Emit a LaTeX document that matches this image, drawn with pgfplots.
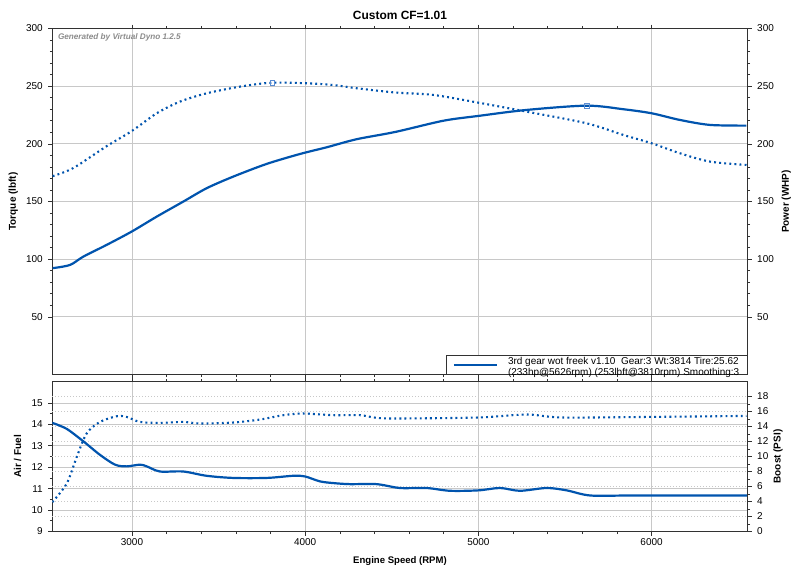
\documentclass[border=0pt]{standalone}
\usepackage{fontspec}
\setmainfont{Liberation Sans}
\usepackage{pgfplots}
\pgfplotsset{compat=1.18}
\definecolor{dyno}{RGB}{0,84,174}
\definecolor{gridc}{RGB}{200,200,200}
\definecolor{axc}{RGB}{50,50,50}
\definecolor{markc}{RGB}{90,140,210}
\definecolor{wmark}{RGB}{140,140,140}

\pgfplotsset{
  dynobase/.style={
    scale only axis, width=695.4bp,
    xmin=2540, xmax=6555,
    xtick={3000,4000,5000,6000},
    minor x tick num=4,
    tick align=outside,
    major tick length=4bp, minor tick length=2.5bp,
    axis line style={axc, line width=0.8bp},
    every tick/.style={axc, line width=0.6bp},
    /pgf/number format/assume math mode=true,
    /pgf/number format/set thousands separator={},
    tick label style={font=\fontsize{10}{12}\selectfont},
    label style={font=\bfseries\fontsize{10}{12}\selectfont},
    major grid style={gridc, line width=0.8bp},
  },
  solidline/.style={dyno, line width=2.2bp, smooth},
  dotline/.style={dyno, line width=2.1bp, smooth, dash pattern=on 1.9bp off 3.2bp},
}

\begin{document}
\begin{tikzpicture}
\fill[white, use as bounding box] (0,0) rectangle (799bp,-573bp);

% ---------- top panel: torque / power ----------
\begin{axis}[dynobase,
  at={(52.3bp,-28.5bp)}, anchor=north west,
  height=346bp,
  ymin=0, ymax=300,
  ytick={50,100,...,300},
  minor y tick num=4,
  xticklabels={},
  ytick pos=left,
  yticklabel style={xshift=-2bp},
  xmajorgrids, ymajorgrids,
  ylabel={Torque (lbft)},
  ylabel style={at={(axis description cs:-0.056,0.5)}, anchor=center},
  title={Custom CF=1.01},
  title style={font=\bfseries\fontsize{12}{14}\selectfont, at={(axis description cs:0.5,1)}, anchor=south, yshift=-1bp},
  legend style={at={(axis description cs:1,0)}, anchor=south east, draw=axc, line width=0.8bp,
    fill=white, inner xsep=6bp, inner ysep=0bp, font=\fontsize{10}{11}\selectfont,
    legend cell align=left},
  legend image code/.code={\draw[#1, line width=2.2bp] (0bp,0bp) -- (43bp,0bp);},
]
\node[anchor=west, font=\bfseries\itshape\fontsize{8.2}{10}\selectfont, text=wmark, inner sep=0pt]
  at (axis description cs:0.008,0.974) {Generated by Virtual Dyno 1.2.5};

% Torque (dotted)
\addplot[dotline, forget plot] coordinates {
(2542,172) (2661,179) (2854,198) (2998,211) (3143,226.5) (3277,236.6)
(3431,243.8) (3624,249.6) (3807,253) (4009,252.5) (4162,251) (4297,248.2)
(4520,244.5) (4740,242.4) (5000,235.7) (5279,227.9) (5625,217.8) (5837,207.7)
(6000,200.5) (6164,191.8) (6337,184.6) (6548,181.7)
};
% Power (solid)
\addplot[solidline] coordinates {
(2542,92.2) (2642,95) (2719,102.2) (2854,112.4) (2998,123.9) (3143,136.9)
(3296,149.9) (3431,161.5) (3585,171.6) (3778,182.6) (3970,191.2) (4124,197)
(4297,204) (4520,210.3) (4797,220) (5000,224.2) (5279,229.4) (5625,233.1)
(5837,230) (6000,226.5) (6164,220.7) (6337,216.4) (6548,215.8)
};
\addlegendentry{\hspace{8bp}\begin{tabular}{@{}l@{}}3rd gear wot freek v1.10\ \ Gear:3 Wt:3814 Tire:25.62\\(233hp@5626rpm) (253lbft@3810rpm) Smoothing:3\end{tabular}}
% peak markers
\addplot[only marks, mark=square, mark size=2.2bp, mark options={draw=markc, line width=0.6bp, fill=white}, forget plot]
  coordinates {(3810,253) (5626,233)};
\end{axis}

\begin{axis}[dynobase,
  at={(52.3bp,-28.5bp)}, anchor=north west,
  height=346bp,
  ymin=0, ymax=300,
  ytick={50,100,...,300},
  minor y tick num=4,
  axis x line=none,
  axis y line*=right,
  yticklabel style={xshift=2bp},
  ylabel={Power (WHP)},
  ylabel style={at={(axis description cs:1.0554,0.5)}, anchor=center},
]
\end{axis}

% ---------- bottom panel: AFR / boost ----------
\begin{axis}[dynobase,
  at={(52.3bp,-381.5bp)}, anchor=north west,
  height=150bp,
  ymin=9, ymax=16,
  ytick={9,...,15},
  minor y tick num=1,
  ytick pos=left,
  yticklabel style={xshift=-2bp},
  xmajorgrids, ymajorgrids,
  extra y ticks={9.7,10.4,11.1,11.8,12.5,13.2,13.9,14.6,15.3},
  extra y tick labels={},
  extra y tick style={grid=major, major tick length=0pt,
     major grid style={gridc, line width=0.8bp, dash pattern=on 1bp off 2bp}},
  ylabel={Air / Fuel},
  ylabel style={at={(axis description cs:-0.050,0.5)}, anchor=center},
  xlabel={Engine Speed (RPM)},
  xlabel style={at={(axis description cs:0.5,-0.197)}, anchor=center, font=\bfseries\fontsize{9.6}{11}\selectfont},
]
\addplot[solidline] coordinates {
(2540,14.07) (2623,13.79) (2719,13.21) (2815,12.58) (2902,12.12) (2969,12.04)
(3046,12.12) (3085,12.04) (3162,11.80) (3296,11.80) (3431,11.60) (3585,11.50)
(3778,11.50) (3931,11.60) (3999,11.57) (4085,11.34) (4162,11.26) (4259,11.21)
(4413,11.21) (4547,11.03) (4701,11.03) (4836,10.90) (5000,10.92) (5125,11.03)
(5240,10.90) (5394,11.03) (5510,10.92) (5647,10.68) (5893,10.68) (6555,10.68)
};
\end{axis}

\begin{axis}[dynobase,
  at={(52.3bp,-381.5bp)}, anchor=north west,
  height=150bp,
  ymin=0, ymax=20,
  ytick={0,2,...,18},
  minor y tick num=1,
  axis x line=none,
  axis y line*=right,
  yticklabel style={xshift=2bp},
  ylabel={Boost (PSI)},
  ylabel style={at={(axis description cs:1.0436,0.5)}, anchor=center},
]
\addplot[dotline] coordinates {
(2540,3.92) (2623,6.38) (2681,9.93) (2738,13.06) (2815,14.61) (2912,15.37)
(2969,15.28) (3046,14.61) (3162,14.48) (3296,14.61) (3393,14.40) (3585,14.53)
(3739,14.93) (3874,15.51) (3989,15.73) (4162,15.51) (4316,15.51) (4413,15.15)
(4547,15.07) (5000,15.2) (5279,15.6) (5483,15.2) (5991,15.28) (6548,15.41)
};
\end{axis}
\end{tikzpicture}
\end{document}
